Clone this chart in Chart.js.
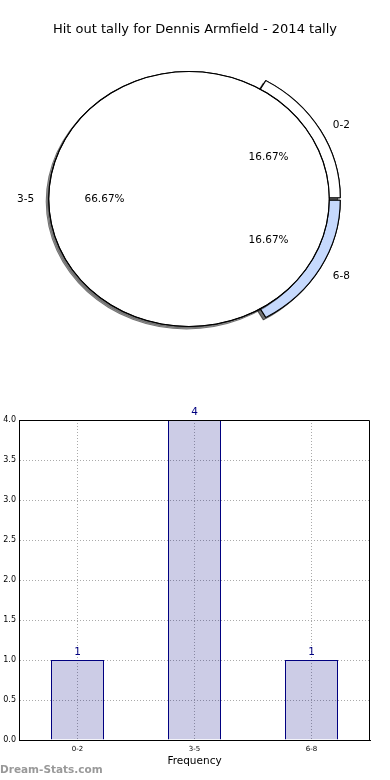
<!DOCTYPE html>
<html lang="en">
<head>
<meta charset="UTF-8">
<meta name="viewport" content="width=device-width, initial-scale=1.0">
<script src="https://cdn.jsdelivr.net/npm/chart.js"></script>
<style>
  html, body { margin: 0; padding: 0; background: #fff; width: 390px; height: 780px; overflow: hidden; }
  .box { position: absolute; left: 0; width: 390px; height: 390px; }
  #mark { position: absolute; left: 0; top: 763px; line-height: 14px; font: bold 10.5px "DejaVu Sans"; color: #999; }
</style>
</head>
<body>
<div class="box" style="top:0"><canvas id="pieBack"></canvas></div>
<div class="box" style="top:0"><canvas id="pieFront"></canvas></div>
<div class="box" style="top:390px"><canvas id="barChart"></canvas></div>
<div id="mark">Dream-Stats.com</div>
<script>
// data
const categories = ['0-2', '3-5', '6-8']
const counts = [1, 4, 1]
const yTicks = [0, 0.5, 1, 1.5, 2, 2.5, 3, 3.5, 4]
const chartTitle = 'Hit out tally for Dennis Armfield - 2014 tally'
const xTitle = 'Frequency'

Chart.defaults.font.family = '"DejaVu Sans"'
Chart.defaults.color = '#000'

// the old pie is a bit wider than tall, and sits left of the title centre
const SQUASH = 1.1
const SHIFT_X = -6
const total = counts.reduce((s, v) => s + v, 0)
const biggest = counts.indexOf(Math.max(...counts))

function pieCenter(chart) {
    const a = chart.getDatasetMeta(0).data[0]
    return [a.x, a.y]
}

const pieLook = {
    id: 'pieLook',
    beforeDatasetsDraw(chart) {
        const ctx = chart.ctx
        const [cx, cy] = pieCenter(chart)
        ctx.save()
        ctx.translate(cx + SHIFT_X, cy)
        ctx.scale(SQUASH, 1)
        ctx.translate(-cx, -cy)
        ctx.shadowColor = 'rgba(0,0,0,0.55)'
        ctx.shadowOffsetX = -2.5
        ctx.shadowOffsetY = 2.5
        ctx.shadowBlur = 0
    },
    afterDatasetsDraw(chart) {
        const ctx = chart.ctx
        // draw again without shadow so no shadow shows inside the pie
        ctx.shadowColor = 'rgba(0,0,0,0)'
        for (let d = chart.data.datasets.length - 1; d >= 0; d--) {
            chart.getDatasetMeta(d).data.forEach(a => a.draw(ctx))
        }
        ctx.restore()
    }
}

// chart.js goes clockwise, matplotlib went counter clockwise
const rev = arr => arr.slice().reverse()

const backChart = new Chart(document.getElementById('pieBack'), {
    type: 'pie',
    data: {
        labels: rev(categories),
        datasets: [{
            data: rev(counts),
            backgroundColor: rev(['#ffffff', 'rgba(0,0,0,0)', '#c6d9fd']),
            borderColor: rev(['#000', 'rgba(0,0,0,0)', '#000']),
            borderWidth: 1,
            offset: rev(counts.map((v, i) => i === biggest ? 0 : 10))
        }]
    },
    options: {
        animation: false,
        responsive: true,
        maintainAspectRatio: false,
        rotation: 90,
        radius: 135,
        layout: { padding: { top: 47.6, bottom: 39.6 } },
        plugins: { legend: { display: false }, tooltip: { enabled: false } }
    },
    plugins: [pieLook]
})

const pieLabels = {
    id: 'pieLabels',
    afterDraw(chart) {
        const ctx = chart.ctx
        const arcs = backChart.getDatasetMeta(0).data
        const frontR = chart.getDatasetMeta(0).data[0].outerRadius
        const [cx, cy] = pieCenter(chart)
        ctx.save()
        ctx.fillStyle = '#000'
        ctx.font = '10.5px "DejaVu Sans"'
        ctx.textBaseline = 'middle'
        categories.forEach((cat, i) => {
            const a = arcs[categories.length - 1 - i]
            const mid = (a.startAngle + a.endAngle) / 2
            const push = (a.options.offset || 0) / 4
            const r = push ? a.outerRadius : frontR
            const put = rad => [cx + SHIFT_X + SQUASH * Math.cos(mid) * rad, cy + Math.sin(mid) * rad]
            let [x, y] = put(r * (push ? 1.1 : 1.1) + push)
            ctx.textAlign = Math.cos(mid) >= 0 ? 'left' : 'right'
            ctx.fillText(cat, x, y + (push ? 2 : 0))
            ;[x, y] = put(r * 0.6 + push)
            ctx.textAlign = 'center'
            ctx.fillText((counts[i] / total * 100).toFixed(2) + '%', x, y)
        })
        ctx.restore()
    }
}

// white pie on top: thin black ring as outline + white disc
new Chart(document.getElementById('pieFront'), {
    type: 'doughnut',
    data: {
        labels: ['all'],
        datasets: [
            { data: [total], backgroundColor: '#000', borderWidth: 0, weight: 1 },
            { data: [total], backgroundColor: '#ffffff', borderWidth: 0, weight: 127 }
        ]
    },
    options: {
        animation: false,
        responsive: true,
        maintainAspectRatio: false,
        cutout: 0,
        radius: 128,
        layout: { padding: { bottom: 39.6 } },
        plugins: {
            legend: { display: false },
            tooltip: { enabled: false },
            title: {
                display: true,
                text: chartTitle,
                color: '#000',
                font: { size: 13, weight: 'normal' },
                padding: { top: 22, bottom: 10 }
            }
        }
    },
    plugins: [pieLook, pieLabels]
})

// bar chart
const frame = {
    id: 'frame',
    afterDraw(chart) {
        const { ctx, chartArea: a } = chart
        ctx.save()
        ctx.strokeStyle = '#000'
        ctx.lineWidth = 1
        ctx.beginPath()
        ctx.moveTo(Math.round(a.left), Math.round(a.top) + 0.5)
        ctx.lineTo(Math.round(a.right) - 0.5, Math.round(a.top) + 0.5)
        ctx.lineTo(Math.round(a.right) - 0.5, Math.round(a.bottom))
        ctx.stroke()
        ctx.restore()
    }
}

const barValues = {
    id: 'barValues',
    afterDatasetsDraw(chart) {
        const ctx = chart.ctx
        ctx.save()
        ctx.fillStyle = '#000080'
        ctx.font = '10.5px "DejaVu Sans"'
        ctx.textAlign = 'center'
        ctx.textBaseline = 'bottom'
        chart.getDatasetMeta(0).data.forEach((bar, i) => {
            ctx.fillText(counts[i], bar.x, bar.y - 2)
        })
        ctx.restore()
    }
}

new Chart(document.getElementById('barChart'), {
    type: 'bar',
    data: {
        labels: categories,
        datasets: [{
            data: counts,
            backgroundColor: 'rgba(0,0,128,0.2)',
            borderColor: '#000080',
            borderWidth: 1,
            barPercentage: 53 / 117,
            categoryPercentage: 1
        }]
    },
    options: {
        animation: false,
        responsive: true,
        maintainAspectRatio: false,
        layout: { padding: { top: 30, right: 20, left: 0, bottom: 0 } },
        plugins: { legend: { display: false }, tooltip: { enabled: false } },
        scales: {
            x: {
                offset: true,
                grid: { offset: false, color: '#aaa', drawTicks: false },
                border: { color: '#000', dash: [1, 2] },
                ticks: { font: { size: 7 }, color: '#000', padding: 5 },
                title: {
                    display: true,
                    text: xTitle,
                    color: '#000',
                    font: { size: 10.5 },
                    padding: { top: 0, bottom: 12.7 }
                },
                afterFit(s) { s.height = 40 }
            },
            y: {
                min: 0,
                max: 4,
                afterBuildTicks(s) { s.ticks = yTicks.map(v => ({ value: v })) },
                ticks: { font: { size: 8 }, color: '#000', padding: 3, callback: v => v.toFixed(1) },
                grid: { color: '#aaa', drawTicks: false },
                border: { color: '#000', dash: [1, 2] },
                afterFit(s) { s.width = 19 }
            }
        }
    },
    plugins: [frame, barValues]
})
</script>
</body>
</html>
